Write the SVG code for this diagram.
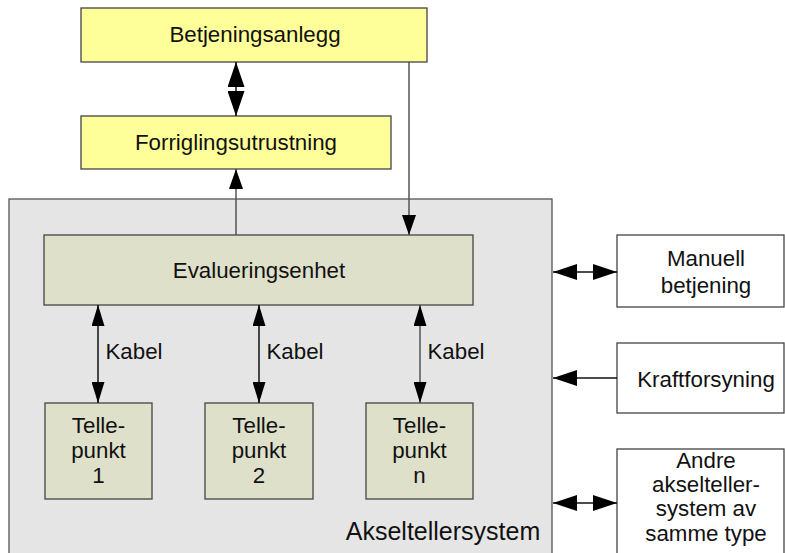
<svg xmlns="http://www.w3.org/2000/svg" width="785" height="553" viewBox="0 0 785 553">
<style>
text{font-family:"Liberation Sans",Arial,sans-serif;font-size:22.3px;fill:#111;text-anchor:middle}
.y{fill:#FFFF99;stroke:#444;stroke-width:1.3}
.g{fill:#DEE0CA;stroke:#444;stroke-width:1.3}
.w{fill:#fff;stroke:#444;stroke-width:1.3}
.c{stroke:#555;stroke-width:1.5;fill:none}
.k{stroke:#111;stroke-width:1.5;fill:none}
</style>
<defs>
<marker id="a" markerUnits="userSpaceOnUse" markerWidth="22" markerHeight="13" refX="21" refY="6.5" orient="auto-start-reverse"><path d="M0,0 L21,6.5 L0,13 z" fill="#000"/></marker>
<marker id="s" markerUnits="userSpaceOnUse" markerWidth="21" markerHeight="14" refX="20" refY="7" orient="auto-start-reverse"><path d="M0,0 L20,7 L0,14 z" fill="#000"/></marker>
<marker id="r" markerUnits="userSpaceOnUse" markerWidth="25" markerHeight="16" refX="24" refY="8" orient="auto-start-reverse"><path d="M0,0 L24,8 L0,16 z" fill="#000"/></marker>
<marker id="b" markerUnits="userSpaceOnUse" markerWidth="26" markerHeight="17" refX="25" refY="8.5" orient="auto-start-reverse"><path d="M0,0 L25,8.5 L0,17 z" fill="#000"/></marker>
</defs>
<g id="system">
<rect x="9" y="199" width="543" height="370" fill="#E5E5E5" stroke="#555" stroke-width="1.3"/>
<text x="443" y="540" style="font-size:25px">Akseltellersystem</text>
</g>
<g id="betjeningsanlegg">
<rect class="y" x="81" y="8" width="346" height="54"/>
<text x="255" y="42">Betjeningsanlegg</text>
</g>
<g id="forrigling">
<rect class="y" x="81" y="116" width="310" height="53"/>
<text x="236" y="150">Forriglingsutrustning</text>
</g>
<g id="evaluering">
<rect class="g" x="44" y="235" width="429" height="70"/>
<text x="259" y="278">Evalueringsenhet</text>
</g>
<g id="tp1">
<rect class="g" x="45" y="403" width="107" height="96"/>
<text x="98.5" y="433">Telle-</text><text x="98.5" y="458">punkt</text><text x="98.5" y="483">1</text>
</g>
<g id="tp2">
<rect class="g" x="205" y="403" width="108" height="96"/>
<text x="259" y="433">Telle-</text><text x="259" y="458">punkt</text><text x="259" y="483">2</text>
</g>
<g id="tpn">
<rect class="g" x="366" y="403" width="107" height="96"/>
<text x="419.5" y="433">Telle-</text><text x="419.5" y="458">punkt</text><text x="419.5" y="483">n</text>
</g>
<g id="manuell">
<rect class="w" x="617" y="235" width="167" height="72"/>
<text x="706" y="266">Manuell</text><text x="706" y="293">betjening</text>
</g>
<g id="kraft">
<rect class="w" x="617" y="343" width="167" height="70"/>
<text x="706" y="387">Kraftforsyning</text>
</g>
<g id="andre">
<rect class="w" x="617" y="449" width="167" height="120"/>
<text x="706" y="468">Andre</text><text x="706" y="492">akselteller-</text><text x="706" y="516">system av</text><text x="706" y="541">samme type</text>
</g>
<g id="connectors">
<line class="k" x1="236" y1="62" x2="236" y2="116" marker-start="url(#b)" marker-end="url(#b)"/>
<line class="c" x1="236" y1="235" x2="236" y2="169" marker-end="url(#s)"/>
<line class="c" x1="409" y1="62" x2="409" y2="235" marker-end="url(#s)"/>
<line class="k" x1="98" y1="305" x2="98" y2="403" marker-start="url(#a)" marker-end="url(#a)"/>
<line class="k" x1="259" y1="305" x2="259" y2="403" marker-start="url(#a)" marker-end="url(#a)"/>
<line class="c" x1="420" y1="305" x2="420" y2="403" marker-start="url(#a)" marker-end="url(#a)"/>
<line class="k" x1="553" y1="272" x2="617" y2="272" marker-start="url(#r)" marker-end="url(#r)"/>
<line class="k" x1="617" y1="378" x2="553" y2="378" marker-end="url(#r)"/>
<line class="k" x1="553" y1="503" x2="617" y2="503" marker-start="url(#r)" marker-end="url(#r)"/>
<text x="134" y="359">Kabel</text>
<text x="295" y="359">Kabel</text>
<text x="456" y="359">Kabel</text>
</g>
</svg>
